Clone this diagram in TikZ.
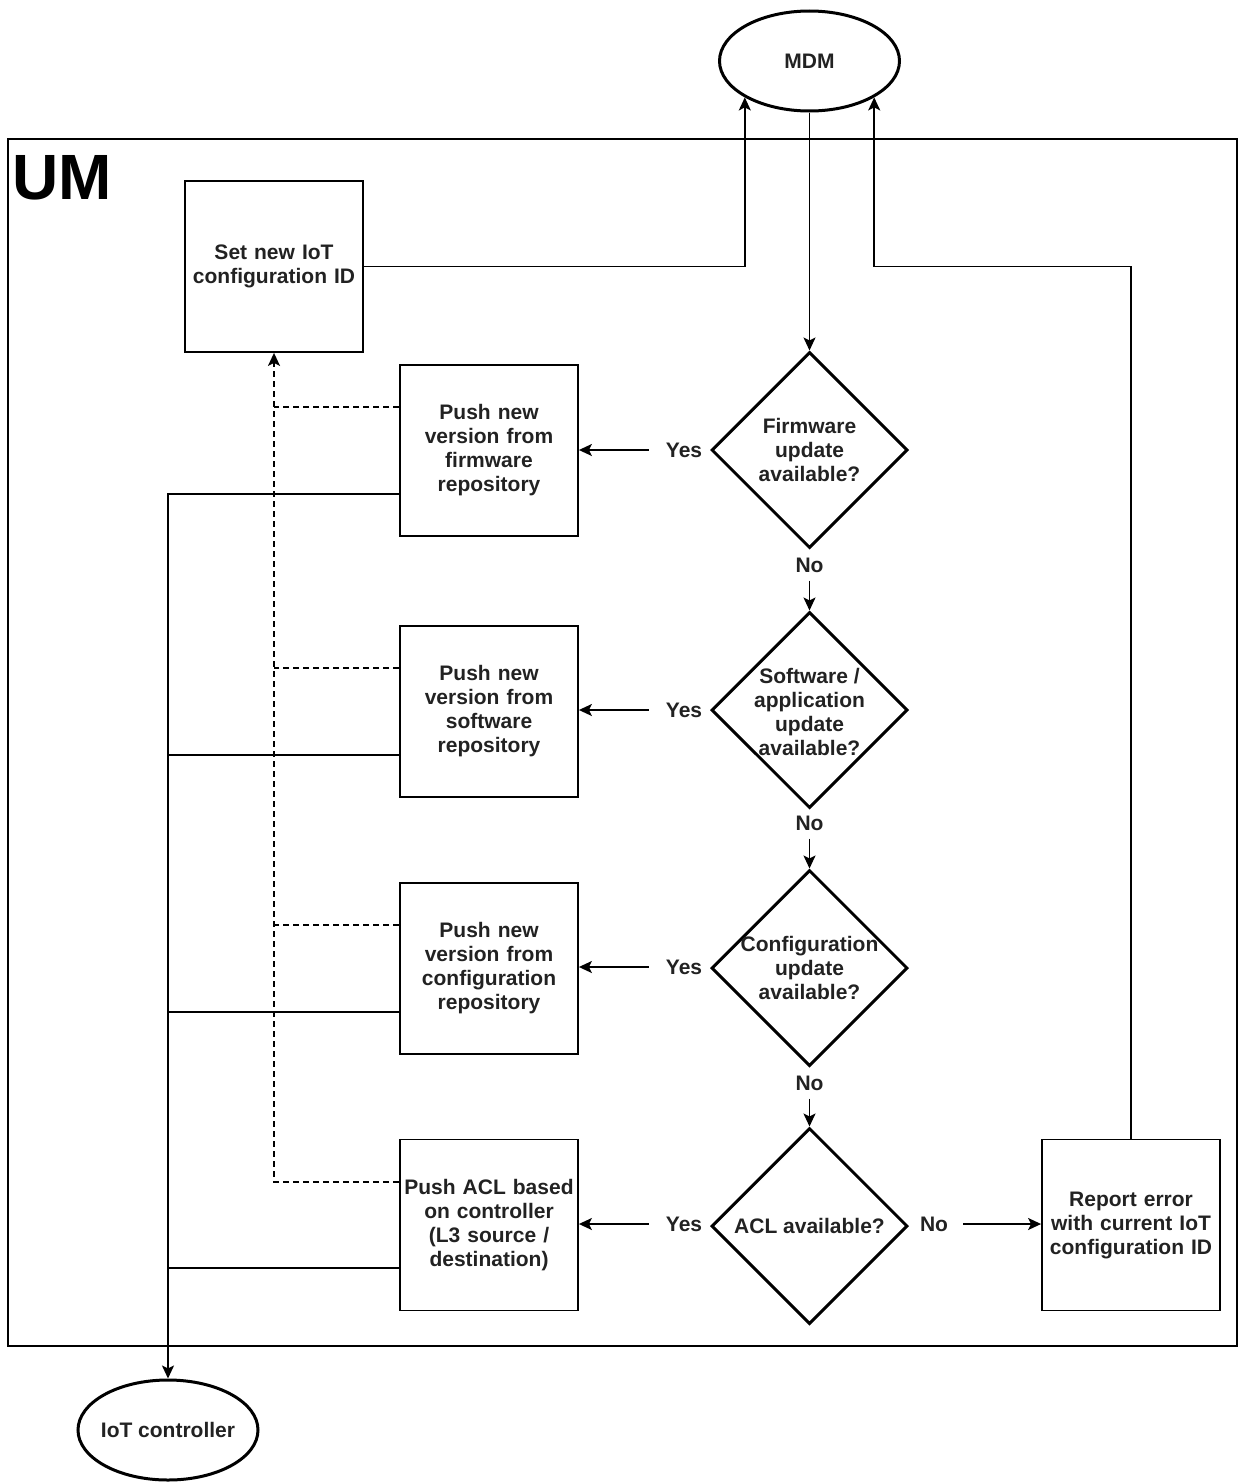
\documentclass[tikz,border=0pt]{standalone}
\usepackage{fontspec}
\setmainfont{Liberation Sans}
\usetikzlibrary{shapes.geometric,arrows.meta,calc}
\definecolor{txt}{RGB}{34,34,34}
\begin{document}
\begin{tikzpicture}[x=0.5pt,y=-0.5pt,
  font=\bfseries\fontsize{10.5pt}{12pt}\selectfont, text=txt,
  box/.style={draw,line width=0.9pt,minimum height=85.5pt,text width=86pt,inner xsep=1.5pt,align=center},
  dia/.style={draw,diamond,line width=1.5pt,minimum width=98pt,minimum height=98pt,inner sep=0pt},
  oval/.style={draw,ellipse,line width=1.5pt,minimum width=90pt,minimum height=50pt,inner sep=0pt},
  tip/.style={-{Stealth[length=6.5pt,width=6pt,inset=1.5pt]}},
  conn/.style={line width=0.9pt},
  arr/.style={conn,tip},
  dashline/.style={line width=0.9pt,dash pattern=on 3pt off 2pt},
  yeslab/.style={inner xsep=8.5pt,inner ysep=2pt},
  nolab/.style={inner ysep=4pt,inner xsep=1pt},
  dtext/.style={align=center,inner sep=0pt},
]
\useasboundingbox (0,0) rectangle (1237,1483);

% outer container
\node[draw,line width=0.9pt,anchor=north west,minimum width=614.5pt,minimum height=603.5pt,inner sep=0pt] (um) at (7,138) {};
\node[anchor=north west,inner sep=0pt,text=black,font=\bfseries\fontsize{32pt}{36pt}\selectfont] (umlabel) at (12,155) {UM};

% terminals
\node[oval] (mdm) at (809.5,61) {};
\node[dtext] (mdmtext) at (mdm) {MDM};
\node[oval] (iot) at (168,1430) {};
\node[dtext] (iottext) at (iot) {IoT controller};

% process boxes
\node[box] (set) at (274,266.5) {Set new IoT\\configuration ID};
\node[box] (b1) at (489,450.5) {Push new\\version from\\firmware\\repository};
\node[box] (b2) at (489,711.5) {Push new\\version from\\software\\repository};
\node[box] (b3) at (489,968.5) {Push new\\version from\\configuration\\repository};
\node[box] (b4) at (489,1225) {Push ACL based\\on controller\\(L3 source /\\destination)};
\node[box] (rep) at (1131,1225) {Report error\\with current IoT\\configuration ID};

% decisions
\node[dia] (d1) at (809.5,450) {};
\node[dia] (d2) at (809.5,710) {};
\node[dia] (d3) at (809.5,968) {};
\node[dia] (d4) at (809.5,1226) {};
\node[dtext] (dt1) at (d1) {Firmware\\update\\available?};
\node[dtext] (dt2) at ($(d2)+(0,2)$) {Software /\\application\\update\\available?};
\node[dtext] (dt3) at (d3) {Configuration\\update\\available?};
\node[dtext] (dt4) at (d4) {ACL available?};

% branch labels
\node[yeslab] (y1) at (684,450) {Yes};
\node[yeslab] (y2) at (684,710) {Yes};
\node[yeslab] (y3) at (684,967) {Yes};
\node[yeslab] (y4) at (684,1224) {Yes};
\node[nolab] (n1) at (809.5,565) {No};
\node[nolab] (n2) at (809.5,823) {No};
\node[nolab] (n3) at (809.5,1083) {No};
\node[inner xsep=7.5pt,inner ysep=2pt] (n4) at (934,1224) {No};

% main flow
\draw[arr] (mdm.south) -- (d1.north);
\draw[arr] (n1.south) -- (d2.north);
\draw[arr] (n2.south) -- (d3.north);
\draw[arr] (n3.south) -- (d4.north);
\draw[arr] (y1.west) -- (y1.west -| b1.east);
\draw[arr] (y2.west) -- (y2.west -| b2.east);
\draw[arr] (y3.west) -- (y3.west -| b3.east);
\draw[arr] (y4.west) -- (y4.west -| b4.east);
\draw[arr] (n4.east) -- (n4.east -| rep.west);

% feedback to MDM
\draw[arr] (set.east) -| (mdm.south west);
\draw[arr] (rep.north) -- (rep.north |- set.east) -| (mdm.south east);

% attachment points on the push boxes
\foreach \b in {1,2,3,4}{
  \coordinate (q\b) at ($(b\b.north west)!0.25!(b\b.south west)$);
  \coordinate (p\b) at ($(b\b.north west)!0.75!(b\b.south west)$);
}

% dashed returns to the configuration ID box
\foreach \b in {1,2,3}{\draw[dashline] (q\b) -- (q\b -| set.south);}
\draw[dashline,tip] (q4) -| (set.south);

% pushes to the IoT controller
\foreach \b in {2,3,4}{\draw[conn] (p\b) -- (p\b -| iot.north);}
\draw[arr] (p1) -| (iot.north);
\end{tikzpicture}
\end{document}
